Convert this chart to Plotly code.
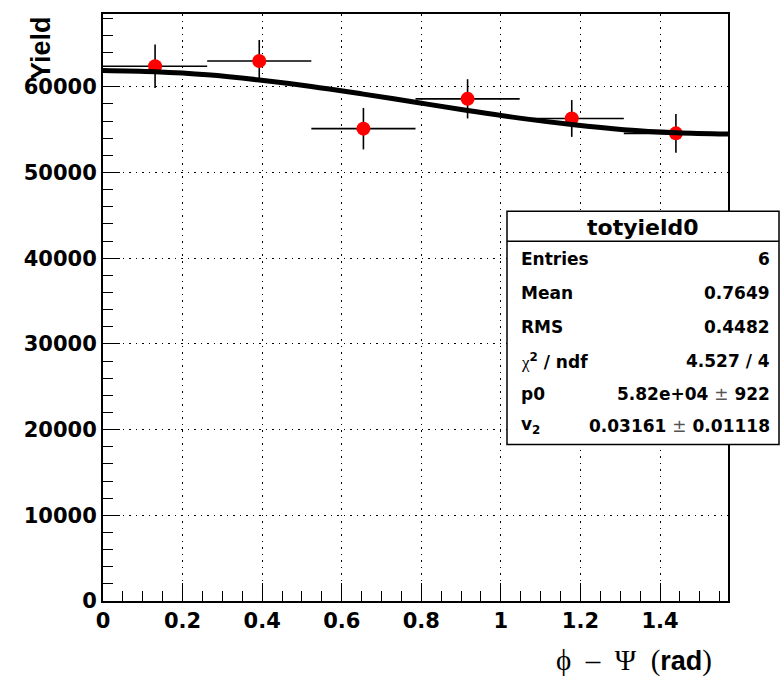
import plotly.graph_objects as go

# ---- data ----
bin_centers = [0.1309, 0.3927, 0.6545, 0.9163, 1.1781, 1.4399]
bin_half_widths = [0.1309, 0.1309, 0.1309, 0.1309, 0.1309, 0.1309]
yields = [62400, 63020, 55120, 58600, 56310, 54570]
yield_errors = [2550, 2450, 2420, 2290, 2150, 2270]

fit_x = [0.0, 0.1309, 0.2618, 0.3927, 0.5236, 0.6545, 0.7854,
         0.9163, 1.0472, 1.1781, 1.3090, 1.4399, 1.5708]
fit_y = [61900, 61750, 61400, 60800, 60050, 59150, 58200,
         57250, 56350, 55600, 55000, 54650, 54500]

x_tick_vals = [0, 0.2, 0.4, 0.6, 0.8, 1.0, 1.2, 1.4]
x_tick_text = ["0", "0.2", "0.4", "0.6", "0.8", "1", "1.2", "1.4"]
y_tick_vals = [0, 10000, 20000, 30000, 40000, 50000, 60000]
y_tick_text = ["0", "10000", "20000", "30000", "40000", "50000", "60000"]

stats_title = "totyield0"
stats_labels = ["Entries", "Mean", "RMS",
                "<span style='font-family:Liberation Serif;font-weight:normal'>χ</span><sup>2</sup> / ndf",
                "p0", "v<sub>2</sub>"]
stats_values = ["6", "0.7649", "0.4482", "4.527 / 4",
                "5.82e+04 <span style='font-weight:normal;color:#555'>±</span> 922",
                "0.03161 <span style='font-weight:normal;color:#555'>±</span> 0.01118"]

W, H = 781, 677
L, R, T, B = 103, 728, 12, 601


def px_x(p):
    return (p - L) / (R - L)


def px_y(p):
    return (B - p) / (B - T)


fig = go.Figure()

fig.add_trace(go.Scatter(
    x=bin_centers, y=yields, mode="markers",
    marker=dict(color="#ff0000", size=14, symbol="circle"),
    error_x=dict(type="data", array=bin_half_widths, color="black", thickness=1.6, width=0),
    error_y=dict(type="data", array=yield_errors, color="black", thickness=1.6, width=0),
    showlegend=False, hoverinfo="skip",
))

fig.add_trace(go.Scatter(
    x=fit_x, y=fit_y, mode="lines",
    line=dict(color="black", width=5, shape="spline"),
    showlegend=False, hoverinfo="skip",
))

tickfont = dict(family="DejaVu Sans", size=21, color="black", weight="bold")

fig.update_xaxes(
    range=[0, 1.5708], tickvals=x_tick_vals, ticktext=x_tick_text,
    ticks="inside", ticklen=18, tickwidth=1, tickcolor="black",
    minor=dict(dtick=0.05, tick0=0, ticks="inside", ticklen=10, tickwidth=1, tickcolor="black", showgrid=False),
    showline=True, linecolor="black", linewidth=2, mirror=True,
    showgrid=True, gridcolor="black", gridwidth=1, griddash="1.5px,5px",
    zeroline=False, tickfont=tickfont,
)
fig.update_yaxes(
    range=[0, 68500], tickvals=y_tick_vals, ticktext=y_tick_text,
    ticks="inside", ticklen=17, tickwidth=1, tickcolor="black",
    minor=dict(dtick=2000, tick0=0, ticks="inside", ticklen=10, tickwidth=1, tickcolor="black", showgrid=False),
    showline=True, linecolor="black", linewidth=2, mirror=True,
    showgrid=True, gridcolor="black", gridwidth=1, griddash="1.5px,5px",
    zeroline=False, tickfont=tickfont,
)

# stats box
bx0, bx1, by0, by1, bsep = 507, 779, 444, 210, 240
fig.add_shape(type="rect", xref="paper", yref="paper",
              x0=px_x(bx0), x1=px_x(bx1), y0=px_y(by0), y1=px_y(by1),
              fillcolor="white", line=dict(color="black", width=1.5), layer="above")
fig.add_shape(type="line", xref="paper", yref="paper",
              x0=px_x(bx0), x1=px_x(bx1), y0=px_y(bsep), y1=px_y(bsep),
              line=dict(color="black", width=1.5), layer="above")

annots = []
annots.append(dict(text=stats_title, x=px_x((bx0 + bx1) / 2), y=px_y(226), xref="paper", yref="paper",
                   xanchor="center", yanchor="middle", showarrow=False,
                   font=dict(family="DejaVu Sans", size=22, color="black", weight="bold")))
row_y = [258, 292, 326, 360, 393, 425]
for lab, val, ry in zip(stats_labels, stats_values, row_y):
    annots.append(dict(text=lab, x=px_x(519), y=px_y(ry), xref="paper", yref="paper",
                       xanchor="left", yanchor="middle", showarrow=False,
                       font=dict(family="DejaVu Sans", size=17, color="black", weight="bold")))
    annots.append(dict(text=val, x=px_x(772), y=px_y(ry), xref="paper", yref="paper",
                       xanchor="right", yanchor="middle", showarrow=False,
                       font=dict(family="DejaVu Sans", size=17, color="black", weight="bold")))

# axis titles
SP = "\u2002"
serif = "<span style='font-family:Liberation Serif;font-weight:normal;font-size:29px'>{}</span>"
x_title = serif.format("ϕ" + SP + "–" + SP + "Ψ" + SP + "(") + "rad" + serif.format(")")
annots.append(dict(
    text=x_title,
    x=px_x(714), y=px_y(661), xref="paper", yref="paper", xanchor="right", yanchor="middle",
    showarrow=False, font=dict(family="Liberation Sans", size=27, color="black", weight="bold")))
annots.append(dict(
    text="Yield", textangle=-90, x=px_x(41), y=px_y(12), xref="paper", yref="paper",
    xanchor="center", yanchor="top", showarrow=False,
    font=dict(family="Liberation Sans", size=27, color="black", weight="bold")))

fig.update_layout(
    width=W, height=H,
    margin=dict(l=L, r=W - R, t=T, b=H - B, pad=0),
    paper_bgcolor="white", plot_bgcolor="white",
    annotations=annots, showlegend=False,
)

fig.write_html("out.html")
